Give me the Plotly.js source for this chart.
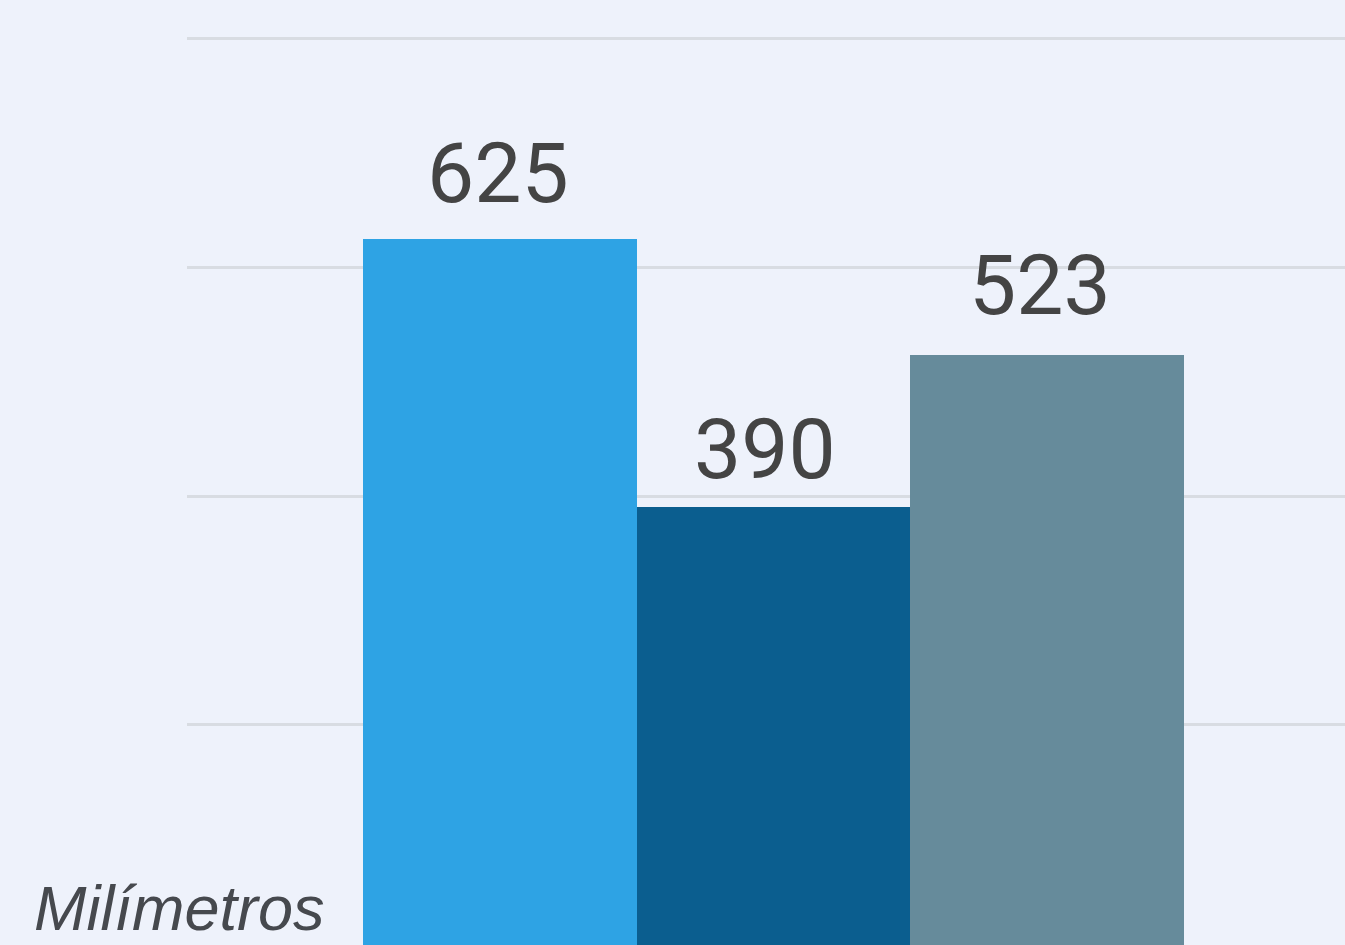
<!DOCTYPE html>
<html>
<head>
<meta charset="utf-8">
<script src="https://cdn.plot.ly/plotly-3.0.1.min.js"></script>
<style>html,body{margin:0;padding:0;background:#eef2fb;}#chart{width:1345px;height:945px;}</style>
</head>
<body>
<div id="chart"></div>
<script>
const categories = ["Serie 1", "Serie 2", "Serie 3"];
const values = [625, 390, 523];
const barColors = ["#2ea3e4", "#0b5e8f", "#668b9b"];
const unitLabel = "Milímetros";

// label placement tweaks (style only)
const labelXShift = [-2, -9, -7];
const labelYShift = [14, 6, 18];

const trace = {
  type: "bar",
  x: categories,
  y: values,
  width: 1,
  marker: {color: barColors, line: {width: 0}},
  hoverinfo: "skip"
};

const annotations = categories.map((c, i) => ({
  x: c, y: values[i], xref: "x", yref: "y",
  text: String(values[i]),
  showarrow: false, xanchor: "center", yanchor: "bottom",
  yshift: labelYShift[i], xshift: labelXShift[i],
  font: {family: "Roboto", size: 84, color: "#444444"}
}));
annotations.push({
  xref: "paper", yref: "paper", x: -0.134, y: 0.0,
  xanchor: "left", yanchor: "bottom", yshift: 0,
  text: unitLabel, showarrow: false,
  font: {family: "Liberation Sans", size: 63, color: "#46494e", style: "italic"}
});

const layout = {
  width: 1345, height: 945,
  margin: {l: 187, r: 0, t: 0, b: 0, pad: 0},
  paper_bgcolor: "#eef2fb",
  plot_bgcolor: "#eef2fb",
  showlegend: false,
  bargap: 0,
  xaxis: {
    type: "category",
    range: [-1.143, 3.088],
    showticklabels: false, showgrid: false, zeroline: false, showline: false, ticks: ""
  },
  yaxis: {
    range: [7.4, 833.8],
    tickvals: [200, 400, 600, 800],
    showticklabels: false,
    showgrid: true, gridcolor: "#d8dce2", gridwidth: 3,
    zeroline: false, showline: false, ticks: ""
  },
  annotations: annotations
};

Plotly.newPlot("chart", [trace], layout, {displayModeBar: false, staticPlot: true});
</script>
</body>
</html>
